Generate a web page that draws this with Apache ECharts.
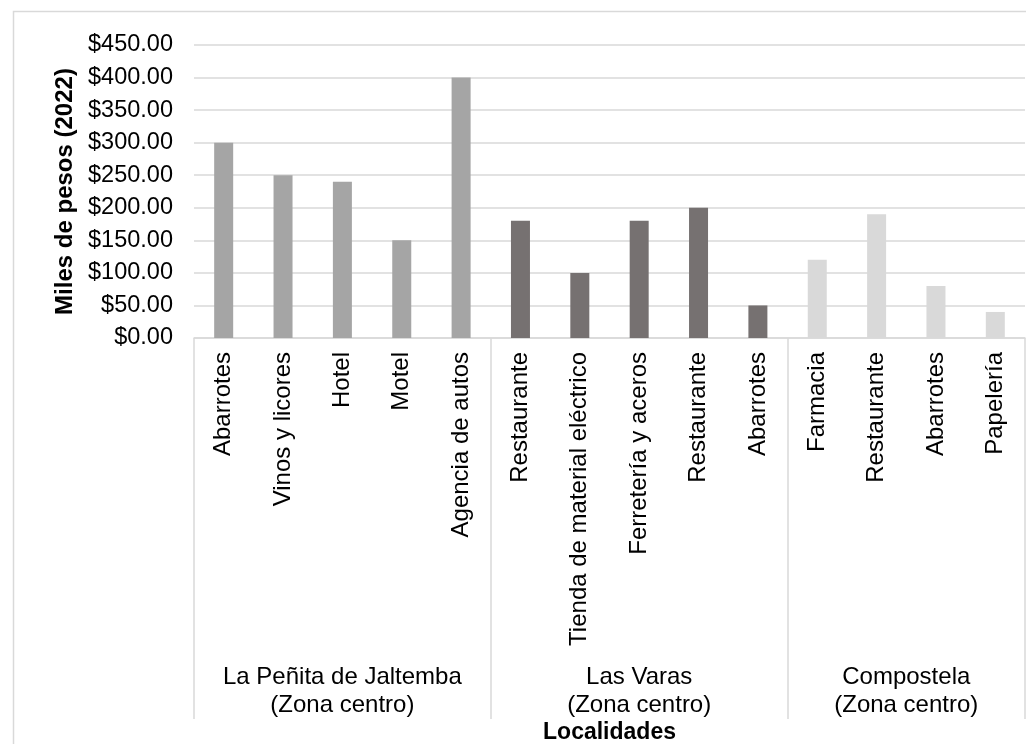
<!DOCTYPE html>
<html>
<head>
<meta charset="utf-8">
<title>Miles de pesos por localidad</title>
<script src="https://cdn.jsdelivr.net/npm/echarts@6/dist/echarts.min.js"></script>
<style>
  html, body { margin: 0; padding: 0; background: #ffffff; }
  #chart { width: 1026px; height: 744px; }
</style>
</head>
<body>
<div id="chart"></div>
<script>
// Giros comerciales por localidad y su valor en miles de pesos (2022)
const categories = [
  'Abarrotes', 'Vinos y licores', 'Hotel', 'Motel', 'Agencia de autos',
  'Restaurante', 'Tienda de material eléctrico', 'Ferretería y aceros', 'Restaurante', 'Abarrotes',
  'Farmacia', 'Restaurante', 'Abarrotes', 'Papelería'
];
const values = [300, 250, 240, 150, 400, 180, 100, 180, 200, 50, 120, 190, 80, 40];
const groupNames = [
  'La Peñita de Jaltemba\n(Zona centro)',
  'Las Varas\n(Zona centro)',
  'Compostela\n(Zona centro)'
];
const groupSizes = [5, 5, 4];
const groupColors = ['#a5a5a5', '#767171', '#d9d9d9'];
const yTicks = { min: 0, max: 450, interval: 50 };

const FONT = "'Liberation Sans', Arial, sans-serif";

// Group index of each category, bar colours, group boundaries and centres
const groupOf = [];
const boundaries = [-0.5];
const centres = [];
let start = 0;
groupSizes.forEach((n, g) => {
  for (let i = 0; i < n; i++) groupOf.push(g);
  centres.push(start + (n - 1) / 2);
  start += n;
  boundaries.push(start - 0.5);
});

const barData = values.map((v, i) => ({
  value: v,
  itemStyle: { color: groupColors[groupOf[i]] }
}));

const chart = echarts.init(document.getElementById('chart'), null, { renderer: 'canvas' });

chart.setOption({
  animation: false,
  backgroundColor: '#ffffff',
  textStyle: { fontFamily: FONT },
  graphic: [{
    type: 'rect',
    left: 11, top: 9,
    shape: { width: 1100, height: 800 },
    style: { fill: 'none', stroke: '#d9d9d9', lineWidth: 1.5 },
    silent: true
  }],
  grid: {
    left: 194, right: 1, top: 45, bottom: 406,
    containLabel: false,
    outerBoundsMode: 'none'
  },
  xAxis: [{
    type: 'category',
    data: categories,
    axisLine: { show: true, lineStyle: { color: '#d9d9d9', width: 1.5 } },
    axisTick: { show: false },
    axisLabel: {
      interval: 0,
      rotate: 90,
      margin: 14,
      color: '#000000',
      fontSize: 24,
      fontFamily: FONT
    },
    splitLine: { show: false }
  }, {
    // Outer level: localidades, with separators between groups
    type: 'value',
    position: 'bottom',
    offset: 381,
    min: -0.5,
    max: categories.length - 0.5,
    axisLine: { show: false },
    axisTick: {
      show: true,
      inside: true,
      length: 381,
      customValues: boundaries,
      lineStyle: { color: '#d9d9d9', width: 1.5 }
    },
    axisLabel: {
      show: true,
      inside: true,
      margin: 0,
      customValues: centres,
      formatter: (v) => {
        const idx = centres.findIndex(c => Math.abs(c - v) < 1e-6);
        return idx >= 0 ? groupNames[idx] : '';
      },
      color: '#000000',
      fontSize: 24,
      lineHeight: 28,
      fontFamily: FONT,
      align: 'center'
    },
    splitLine: { show: false },
    name: 'Localidades',
    nameLocation: 'middle',
    nameGap: 1,
    nameTextStyle: { fontSize: 23, fontWeight: 'bold', color: '#000000', fontFamily: FONT }
  }],
  yAxis: {
    type: 'value',
    min: yTicks.min,
    max: yTicks.max,
    interval: yTicks.interval,
    axisLine: { show: false },
    axisTick: { show: false },
    splitLine: { show: true, lineStyle: { color: '#d9d9d9', width: 1.5 } },
    axisLabel: {
      margin: 21,
      color: '#000000',
      fontSize: 23.5,
      fontFamily: FONT,
      formatter: (v) => '$' + v.toFixed(2)
    },
    name: 'Miles de pesos (2022)',
    nameLocation: 'middle',
    nameGap: 115,
    nameTextStyle: { fontSize: 24, fontWeight: 'bold', color: '#000000', fontFamily: FONT }
  },
  series: [{
    type: 'bar',
    xAxisIndex: 0,
    yAxisIndex: 0,
    data: barData,
    barWidth: 19,
    silent: true
  }]
});
</script>
</body>
</html>
